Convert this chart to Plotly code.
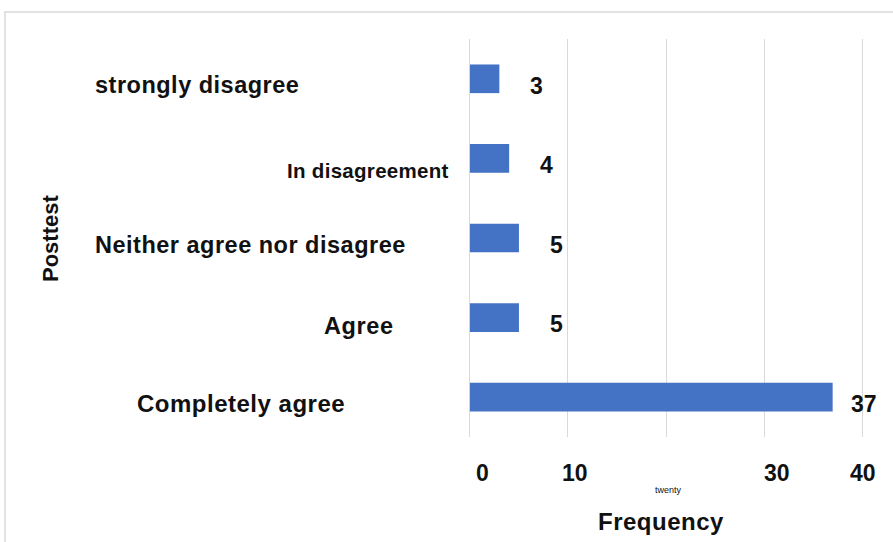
import plotly.graph_objects as go

# ---- data ----
categories = ["strongly disagree", "In disagreement", "Neither agree nor disagree",
              "Agree", "Completely agree"]
frequency = [3, 4, 5, 5, 37]
tick_values = [0, 10, 20, 30, 40]
tick_labels = ["0", "10", "twenty", "30", "40"]
x_title = "Frequency"
y_title = "Posttest"

# ---- layout / style ----
W, H = 893, 542
X_MIN, X_MAX = -0.3, 40.3
L, R, T, B = 467, 28, 39, 105
PW, PH = W - L - R, H - T - B


def px_x(px):
    return (px - L) / PW


def px_y(py):
    return (H - B - py) / PH


FONT = "Arial, 'Liberation Sans', sans-serif"
BAR_COLOR = "#4472C4"
GRID = "#d9d9d9"

label_left_px = [93, 285, 93, 322, 135]
label_size = [23.5, 20.5, 23.5, 23.5, 24]
label_spacing = [0.5, 0.3, 0.5, 0.6, 0.5]
label_yshift = [-6, -12, -7, -8, -6.5]
value_xshift = [37, 37, 37.5, 37.5, 31.5]
value_yshift = [-7, -7, -7, -6.5, -6.5]
tick_xshift = [13, 7, 2, 13, 1]
tick_y_px = [473, 473, 490, 473, 473]
tick_size = [23, 23, 9, 23, 23]
tick_weight = ["bold", "bold", "normal", "bold", "bold"]

fig = go.Figure(go.Bar(
    x=frequency, y=categories, orientation="h",
    marker=dict(color=BAR_COLOR, line=dict(width=0)),
    width=0.36, hoverinfo="x+y",
))

ann = []
for c, v, lx, ls, lsp, ly, vx, vy in zip(categories, frequency, label_left_px, label_size,
                                         label_spacing, label_yshift, value_xshift,
                                         value_yshift):
    ann.append(dict(text=f'<span style="letter-spacing:{lsp}px">{c}</span>',
                    xref="paper", yref="y", x=px_x(lx), y=c,
                    xanchor="left", yanchor="middle", yshift=ly, showarrow=False,
                    font=dict(family=FONT, size=ls, color="#111", weight="bold")))
    ann.append(dict(text=str(v), xref="x", yref="y", x=v, y=c,
                    xanchor="center", yanchor="middle", xshift=vx, yshift=vy,
                    showarrow=False,
                    font=dict(family=FONT, size=23, color="#111", weight="bold")))

for tv, tl, tx, ty, ts, tw in zip(tick_values, tick_labels, tick_xshift, tick_y_px,
                                   tick_size, tick_weight):
    ann.append(dict(text=tl, xref="x", yref="paper", x=tv, y=px_y(ty),
                    xanchor="center", yanchor="middle", xshift=tx, showarrow=False,
                    font=dict(family=FONT, size=ts, color="#111", weight=tw)))

ann.append(dict(text=f'<span style="letter-spacing:0.5px">{x_title}</span>',
                xref="paper", yref="paper", x=px_x(661), y=px_y(521),
                xanchor="center", yanchor="middle", showarrow=False,
                font=dict(family=FONT, size=24, color="#111", weight="bold")))
ann.append(dict(text=y_title, xref="paper", yref="paper", x=px_x(50.5), y=px_y(238.5),
                xanchor="center", yanchor="middle", textangle=-90, showarrow=False,
                font=dict(family=FONT, size=22, color="#111", weight="bold")))

fig.update_layout(
    width=W, height=H,
    margin=dict(l=L, r=R, t=T, b=B),
    paper_bgcolor="white", plot_bgcolor="white",
    showlegend=False,
    xaxis=dict(range=[X_MIN, X_MAX], tickvals=tick_values, showticklabels=False,
               showgrid=True, gridcolor=GRID, gridwidth=1.2, zeroline=False,
               showline=False, ticks=""),
    yaxis=dict(categoryorder="array", categoryarray=categories, autorange="reversed",
               showticklabels=False, showgrid=False, zeroline=False, showline=False,
               ticks=""),
    annotations=ann,
    shapes=[dict(type="rect", xref="paper", yref="paper",
                 x0=px_x(5), x1=px_x(910), y0=px_y(560), y1=px_y(12),
                 line=dict(color=GRID, width=1.5), layer="below")],
)

fig.write_html("out.html")
